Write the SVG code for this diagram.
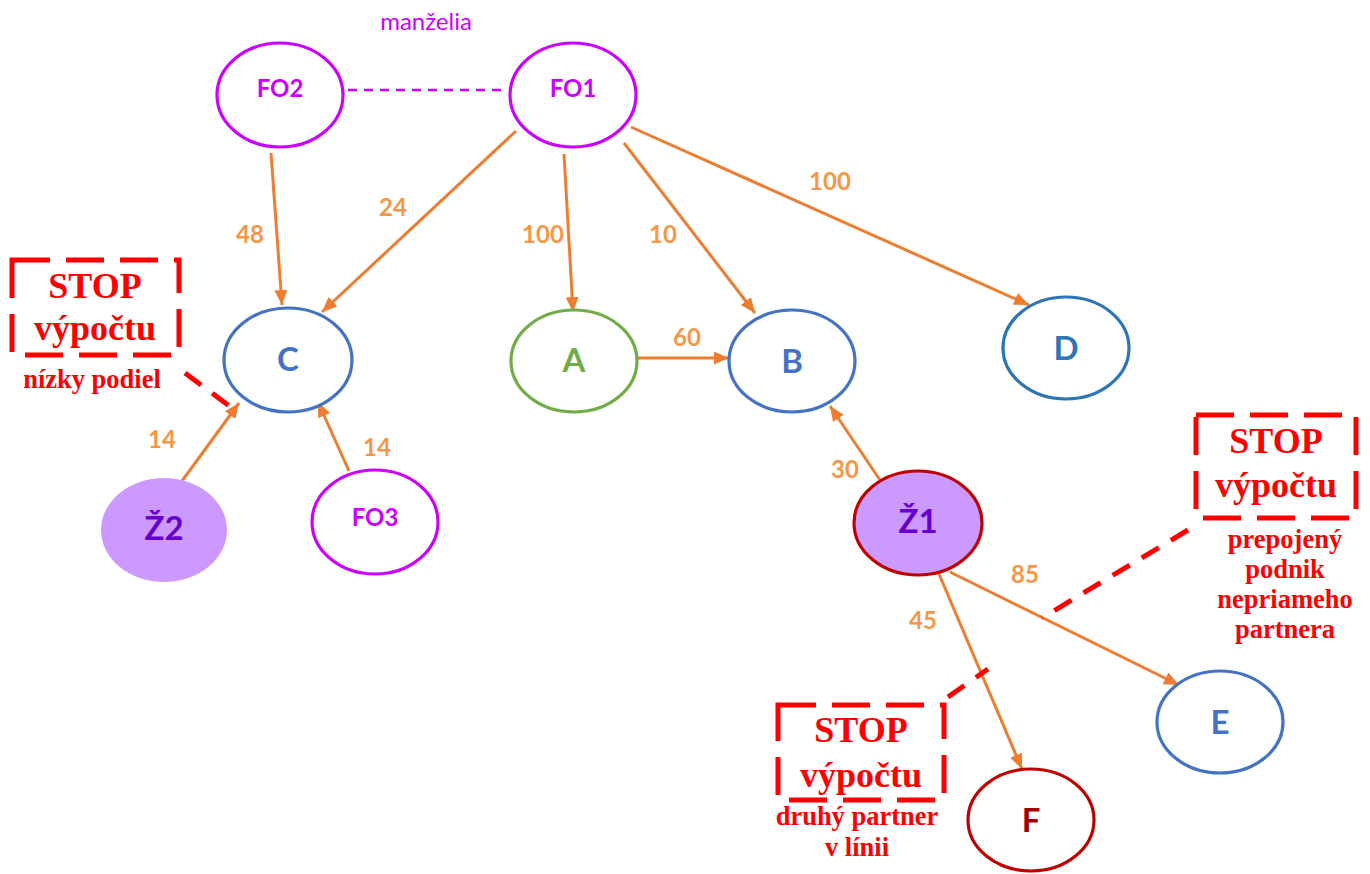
<svg xmlns="http://www.w3.org/2000/svg" width="1370" height="874" viewBox="0 0 1370 874">
<defs>
<marker id="arr" markerWidth="16" markerHeight="14" refX="15" refY="6.5" orient="auto" markerUnits="userSpaceOnUse">
<path d="M0,0 L15,6.5 L0,13 z" fill="#ED7D31"/>
</marker>
<style>
.e{stroke:#ED7D31;stroke-width:3;fill:none;marker-end:url(#arr)}
.n{fill:#fff;stroke-width:3.2}
.nl{font-family:Lato,"Open Sans","Liberation Sans",sans-serif;font-weight:bold;text-anchor:middle}
.el{font-family:Lato,"Open Sans","Liberation Sans",sans-serif;font-weight:bold;font-size:24px;fill:#F79646;text-anchor:middle}
.box{fill:none;stroke:#FF0000;stroke-width:5;stroke-dasharray:38 16}
.rd{stroke:#FF0000;stroke-width:5;fill:none;stroke-dasharray:20 14}
.st{font-family:"Liberation Serif","Times New Roman",serif;font-weight:bold;font-size:36px;fill:#FF0000;text-anchor:middle}
.sn{font-family:"Liberation Serif","Times New Roman",serif;font-weight:bold;font-size:26.5px;fill:#FF0000;text-anchor:middle}
</style>
</defs>
<rect width="1370" height="874" fill="#fff"/>

<text x="426" y="30" style="font-family:Lato,'Open Sans','Liberation Sans',sans-serif;font-size:24px;fill:#CC00FF" text-anchor="middle">manželia</text>

<g id="connectors">
<line x1="348" y1="90" x2="508" y2="90" stroke="#CC00FF" stroke-width="2.5" stroke-dasharray="9 7"/>
<line class="e" x1="271" y1="153" x2="282" y2="305"/>
<line class="e" x1="516" y1="131" x2="322" y2="312"/>
<line class="e" x1="564" y1="154" x2="573" y2="312"/>
<line class="e" x1="624" y1="143" x2="755" y2="313"/>
<line class="e" x1="631" y1="127" x2="1029" y2="305"/>
<line class="e" x1="638" y1="358" x2="729" y2="358"/>
<line class="e" x1="182" y1="481" x2="239" y2="403"/>
<line class="e" x1="349" y1="471" x2="318" y2="402"/>
<line class="e" x1="880" y1="480" x2="830" y2="406"/>
<line class="e" x1="939" y1="574" x2="1022" y2="769"/>
<line class="e" x1="950" y1="572" x2="1179" y2="685"/>
</g>

<g id="labels">
<text class="el" x="250" y="243">48</text>
<text class="el" x="393" y="216">24</text>
<text class="el" x="543" y="243">100</text>
<text class="el" x="663" y="243">10</text>
<text class="el" x="830" y="190">100</text>
<text class="el" x="687" y="346">60</text>
<text class="el" x="162" y="448">14</text>
<text class="el" x="377" y="456">14</text>
<text class="el" x="845" y="478">30</text>
<text class="el" x="1025" y="583">85</text>
<text class="el" x="923" y="629">45</text>
</g>

<g id="FO2"><ellipse class="n" cx="280" cy="95" rx="63" ry="52" stroke="#CC00FF"/><text class="nl" x="280" y="97" font-size="24" fill="#CC00FF">FO2</text></g>
<g id="FO1"><ellipse class="n" cx="573" cy="95" rx="63" ry="52" stroke="#CC00FF"/><text class="nl" x="573" y="97" font-size="24" fill="#CC00FF">FO1</text></g>
<g id="C"><ellipse class="n" cx="288" cy="360" rx="64" ry="52" stroke="#4472C4"/><text class="nl" x="288" y="371" font-size="33" fill="#4472C4">C</text></g>
<g id="A"><ellipse class="n" cx="574" cy="361" rx="63" ry="51" stroke="#70AD47"/><text class="nl" x="574" y="372" font-size="33" fill="#70AD47">A</text></g>
<g id="B"><ellipse class="n" cx="792" cy="361" rx="63" ry="51" stroke="#4472C4"/><text class="nl" x="792" y="373" font-size="33" fill="#4472C4">B</text></g>
<g id="D"><ellipse class="n" cx="1066" cy="348" rx="63" ry="51" stroke="#2E75B6"/><text class="nl" x="1066" y="360" font-size="33" fill="#2E75B6">D</text></g>
<g id="Z2"><ellipse cx="164" cy="530" rx="63" ry="52" fill="#CC99FF"/><text class="nl" x="164" y="540" font-size="33" fill="#6600CC">Ž2</text></g>
<g id="FO3"><ellipse class="n" cx="375" cy="522" rx="63" ry="52" stroke="#CC00FF"/><text class="nl" x="375" y="526" font-size="24" fill="#CC00FF">FO3</text></g>
<g id="Z1"><ellipse cx="918" cy="523" rx="64" ry="52" fill="#CC99FF" stroke="#C00000" stroke-width="3.2"/><text class="nl" x="918" y="533" font-size="33" fill="#6600CC">Ž1</text></g>
<g id="E"><ellipse class="n" cx="1220" cy="722" rx="63" ry="51" stroke="#4472C4"/><text class="nl" x="1220" y="734" font-size="33" fill="#4472C4">E</text></g>
<g id="F"><ellipse class="n" cx="1031" cy="820" rx="63" ry="51" stroke="#C00000"/><text class="nl" x="1031" y="832" font-size="33" fill="#A00000">F</text></g>

<g id="stop1">
<rect class="box" x="12" y="260" width="167" height="95"/>
<text class="st" x="95" y="298">STOP</text>
<text class="st" x="95" y="340">výpočtu</text>
<text class="sn" x="92" y="388">nízky podiel</text>
<line class="rd" x1="185" y1="373" x2="232" y2="408"/>
</g>
<g id="stop2">
<rect class="box" x="1196" y="415" width="160" height="103"/>
<text class="st" x="1276" y="453">STOP</text>
<text class="st" x="1276" y="497">výpočtu</text>
<text class="sn" x="1285" y="548">prepojený</text>
<text class="sn" x="1285" y="578">podnik</text>
<text class="sn" x="1285" y="608">nepriameho</text>
<text class="sn" x="1285" y="638">partnera</text>
<line class="rd" x1="1188" y1="530" x2="1042" y2="618"/>
</g>
<g id="stop3">
<rect class="box" x="778" y="705" width="166" height="95"/>
<text class="st" x="861" y="742">STOP</text>
<text class="st" x="861" y="787">výpočtu</text>
<text class="sn" x="857" y="825">druhý partner</text>
<text class="sn" x="857" y="856">v línii</text>
<line class="rd" x1="948" y1="697" x2="988" y2="669"/>
</g>
</svg>
